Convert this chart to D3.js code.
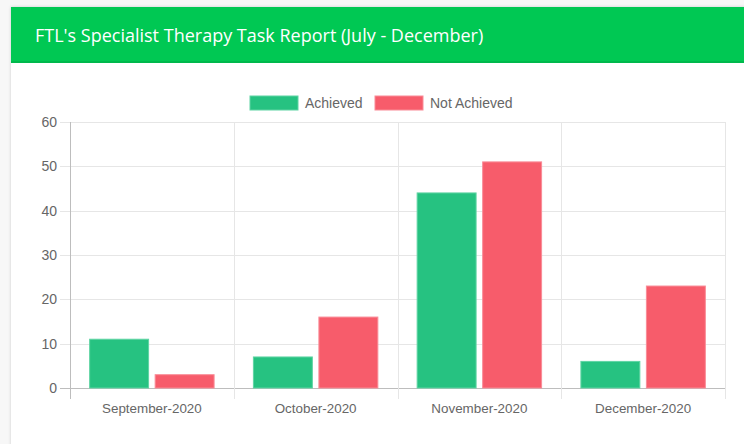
<!DOCTYPE html>
<html>
<head>
<meta charset="utf-8">
<script src="https://cdn.jsdelivr.net/npm/d3@7"></script>
<style>
  html, body { margin: 0; padding: 0; background: #f7f7f7; width: 744px; height: 444px; overflow: hidden; }
  svg { display: block; }
</style>
</head>
<body>
<svg id="chart" width="744" height="444"></svg>
<script>
// Monthly task report data
const months = ["September-2020", "October-2020", "November-2020", "December-2020"];
const achieved = [11, 7, 44, 6];
const notAchieved = [3, 16, 51, 23];
const seriesNames = ["Achieved", "Not Achieved"];
const yTicks = [0, 10, 20, 30, 40, 50, 60];

const colors = { fill: ["#26c281", "#f75c6b"], stroke: ["#5fd4a3", "#f98c97"] };
const svg = d3.select("#chart");

// Card with shadow and green header
const defs = svg.append("defs");
const f = defs.append("filter").attr("id", "shadow").attr("x", "-5%").attr("y", "-5%").attr("width", "110%").attr("height", "110%");
f.append("feDropShadow").attr("dx", 0).attr("dy", 0).attr("stdDeviation", 1.6).attr("flood-color", "#000").attr("flood-opacity", 0.18);

svg.append("rect").attr("x", 11).attr("y", 7).attr("width", 760).attr("height", 460)
  .attr("fill", "#fff").attr("filter", "url(#shadow)");
svg.append("rect").attr("x", 11).attr("y", 7).attr("width", 760).attr("height", 56).attr("fill", "#00c853");
svg.append("rect").attr("x", 11).attr("y", 61).attr("width", 760).attr("height", 2).attr("fill", "#00b94c");
svg.append("text").attr("x", 35).attr("y", 41.5)
  .attr("fill", "#fff").attr("font-family", "'Open Sans', sans-serif").attr("font-size", 18)
  .text("FTL's Specialist Therapy Task Report (July - December)");

// Plot area
const plotLeft = 70, plotRight = 725, plotTop = 122, plotBottom = 388;
const x = d3.scaleBand().domain(months).range([plotLeft, plotRight]).paddingInner(0).paddingOuter(0);
const inner = d3.scaleBand().domain(seriesNames).range([0, x.bandwidth() * 0.8]).paddingInner(0).paddingOuter(0);
const y = d3.scaleLinear().domain([0, 60]).range([plotBottom, plotTop]);

const g = svg.append("g").attr("font-family", "'Liberation Sans', Arial, sans-serif");

// Horizontal gridlines
g.selectAll("line.hgrid").data(yTicks).join("line")
  .attr("x1", plotLeft - 10).attr("x2", plotRight)
  .attr("y1", d => Math.round(y(d)) + 0.5).attr("y2", d => Math.round(y(d)) + 0.5)
  .attr("stroke", d => d === 0 ? "#bdbdbd" : "#e6e6e6").attr("stroke-width", 1);

// Vertical gridlines at category boundaries
const bounds = months.map(m => x(m)).concat([plotRight]);
g.selectAll("line.vgrid").data(bounds).join("line")
  .attr("x1", d => Math.round(d) + 0.5).attr("x2", d => Math.round(d) + 0.5)
  .attr("y1", plotTop).attr("y2", plotBottom + 11)
  .attr("stroke", (d, i) => i === 0 ? "#bdbdbd" : "#e6e6e6").attr("stroke-width", 1);

// Y tick labels
g.selectAll("text.ytick").data(yTicks).join("text")
  .attr("x", plotLeft - 13).attr("y", d => y(d) + 5)
  .attr("text-anchor", "end").attr("font-size", 14).attr("fill", "#666")
  .text(d => d);

// X tick labels
g.selectAll("text.xtick").data(months).join("text")
  .attr("x", d => x(d) + x.bandwidth() / 2).attr("y", 412.5)
  .attr("text-anchor", "middle").attr("font-size", 13.4).attr("fill", "#666")
  .text(d => d);

// Bars
const rows = months.map((m, i) => ({ month: m, values: [achieved[i], notAchieved[i]] }));
const groups = g.selectAll("g.month").data(rows).join("g")
  .attr("transform", d => `translate(${x(d.month) + x.bandwidth() * 0.1},0)`);
groups.selectAll("rect").data(d => d.values.map((v, k) => ({ v, k }))).join("rect")
  .attr("x", d => inner(seriesNames[d.k]) + inner.bandwidth() * 0.05)
  .attr("width", inner.bandwidth() * 0.9)
  .attr("y", d => y(d.v))
  .attr("height", d => y(0) - y(d.v))
  .attr("fill", d => colors.fill[d.k])
  .attr("stroke", d => colors.stroke[d.k]).attr("stroke-width", 1);

// Legend
const legendItems = [
  { name: seriesNames[0], x: 250 },
  { name: seriesNames[1], x: 375 }
];
const lg = g.selectAll("g.legend").data(legendItems).join("g");
lg.append("rect").attr("x", d => d.x).attr("y", 96).attr("width", 48).attr("height", 14)
  .attr("fill", (d, i) => colors.fill[i]).attr("stroke", (d, i) => colors.stroke[i]);
lg.append("text").attr("x", d => d.x + 55).attr("y", 108)
  .attr("font-size", 14).attr("fill", "#666").text(d => d.name);
</script>
</body>
</html>
